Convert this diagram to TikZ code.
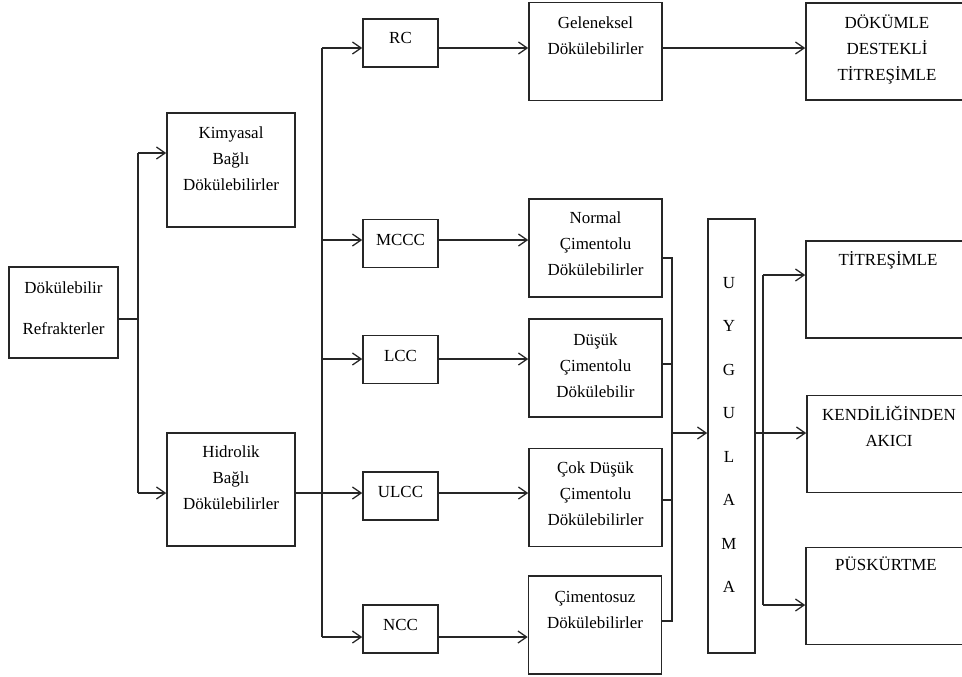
\documentclass[tikz,border=0pt]{standalone}
\usepackage{fontspec}
\setmainfont{Liberation Serif}
\usetikzlibrary{arrows.meta}
\begin{document}
\begin{tikzpicture}[x=0.75pt,y=-0.75pt,
  box/.style={draw=black!85, line width=1.2pt, inner sep=0pt},
  smallbox/.style={box, minimum width=56.25pt, minimum height=36pt},
  midbox/.style={box, minimum width=99.75pt, minimum height=73.5pt},
  rightbox/.style={box, minimum width=121.5pt, minimum height=72.75pt},
  txt/.style={inner sep=0pt, align=center, font=\fontsize{12.7}{19.5}\selectfont, anchor=base},
  ln/.style={draw=black!85, line width=0.95pt},
  arr/.style={ln, -{Straight Barb[length=6.5pt,width=9pt]}},
]
\useasboundingbox (0,0) rectangle (962,676);
\begin{scope}
\clip (0,0) rectangle (962,676);
% boxes
\node[box, minimum width=81.75pt, minimum height=68.25pt] (d) at (63.5,312.5) {};
\node[box, minimum width=96pt, minimum height=85.5pt] (kim) at (231,170) {};
\node[box, minimum width=96pt, minimum height=84.75pt] (hid) at (231,489.5) {};
\node[smallbox] (rc) at (400.5,43) {};
\node[smallbox] (mccc) at (400.5,243.5) {};
\node[smallbox] (lcc) at (400.5,359.5) {};
\node[smallbox] (ulcc) at (400.5,496) {};
\node[smallbox] (ncc) at (400.5,629) {};
\node[midbox] (gel) at (595.5,51.5) {};
\node[midbox] (nor) at (595.5,248) {};
\node[midbox] (dus) at (595.5,368) {};
\node[midbox] (cok) at (595.5,497.5) {};
\node[midbox] (cim) at (595,625) {};
\node[box, minimum width=35.25pt, minimum height=325.5pt] (uyg) at (731.5,436) {};
\node[rightbox] (dok) at (887,51.5) {};
\node[rightbox] (tit) at (887,289.5) {};
\node[rightbox] (ken) at (888,444) {};
\node[rightbox] (pus) at (887,596) {};
% texts (anchor = baseline of the last line)
\node[txt, font=\fontsize{12.7}{30.75}\selectfont] (dt) at (63.5,334) {Dökülebilir\\Refrakterler};
\node[txt] (kimt) at (231,190) {Kimyasal\\Bağlı\\Dökülebilirler};
\node[txt] (hidt) at (231,509) {Hidrolik\\Bağlı\\Dökülebilirler};
\node[txt] (rct) at (400.5,43) {RC};
\node[txt] (mccct) at (400.5,245) {MCCC};
\node[txt] (lcct) at (400.5,361) {LCC};
\node[txt] (ulcct) at (400.5,497) {ULCC};
\node[txt] (ncct) at (400.5,630) {NCC};
\node[txt] (gelt) at (595.5,54) {Geleneksel\\Dökülebilirler};
\node[txt] (nort) at (595.5,275) {Normal\\Çimentolu\\Dökülebilirler};
\node[txt] (dust) at (595.5,397) {Düşük\\Çimentolu\\Dökülebilir};
\node[txt] (cokt) at (595.5,525) {Çok Düşük\\Çimentolu\\Dökülebilirler};
\node[txt] (cimt) at (595,628) {Çimentosuz\\Dökülebilirler};
\node[txt, font=\fontsize{12.7}{32.6}\selectfont] (uygt) at (729,592.5) {U\\Y\\G\\U\\L\\A\\M\\A};
\node[txt] (dokt) at (887,80) {DÖKÜMLE\\DESTEKLİ\\TİTREŞİMLE};
\node[txt] (titt) at (888,265) {TİTREŞİMLE};
\node[txt] (kent) at (889,446) {KENDİLİĞİNDEN\\AKICI};
\node[txt] (pust) at (886,570) {PÜSKÜRTME};
% first split
\coordinate (j1) at (138,319);
\coordinate (ja) at (138,153);
\coordinate (jb) at (138,493);
\draw[ln] (d.east |- j1) -- (j1);
\draw[ln] (ja) -- (jb);
\draw[arr] (ja) -- (ja -| kim.west);
\draw[arr] (jb) -- (jb -| hid.west);
% second trunk
\coordinate (t1) at (322,48);
\coordinate (t2) at (322,240);
\coordinate (t3) at (322,359);
\coordinate (t4) at (322,493);
\coordinate (t5) at (322,637);
\draw[ln] (t1) -- (t5);
\draw[ln] (t4 -| hid.east) -- (t4);
\draw[arr] (t1) -- (t1 -| rc.west);
\draw[arr] (t2) -- (t2 -| mccc.west);
\draw[arr] (t3) -- (t3 -| lcc.west);
\draw[arr] (t4) -- (t4 -| ulcc.west);
\draw[arr] (t5) -- (t5 -| ncc.west);
\draw[arr] (t1 -| rc.east) -- (t1 -| gel.west);
\draw[arr] (t2 -| mccc.east) -- (t2 -| nor.west);
\draw[arr] (t3 -| lcc.east) -- (t3 -| dus.west);
\draw[arr] (t4 -| ulcc.east) -- (t4 -| cok.west);
\draw[arr] (t5 -| ncc.east) -- (t5 -| cim.west);
\draw[arr] (t1 -| gel.east) -- (t1 -| dok.west);
% collector
\coordinate (c1) at (672,258);
\coordinate (c2) at (672,364);
\coordinate (c3) at (672,500);
\coordinate (c4) at (672,621);
\coordinate (cm) at (672,433);
\draw[ln] (c1 -| nor.east) -- (c1) -- (c4) -- (c4 -| cim.east);
\draw[ln] (c2 -| dus.east) -- (c2);
\draw[ln] (c3 -| cok.east) -- (c3);
\draw[arr] (cm) -- (cm -| uyg.west);
% output
\coordinate (o) at (763,433);
\coordinate (o1) at (763,275);
\coordinate (o3) at (763,605);
\draw[ln] (o -| uyg.east) -- (o);
\draw[ln] (o1) -- (o3);
\draw[arr] (o1) -- (o1 -| tit.west);
\draw[arr] (o) -- (o -| ken.west);
\draw[arr] (o3) -- (o3 -| pus.west);
\end{scope}
\end{tikzpicture}
\end{document}
